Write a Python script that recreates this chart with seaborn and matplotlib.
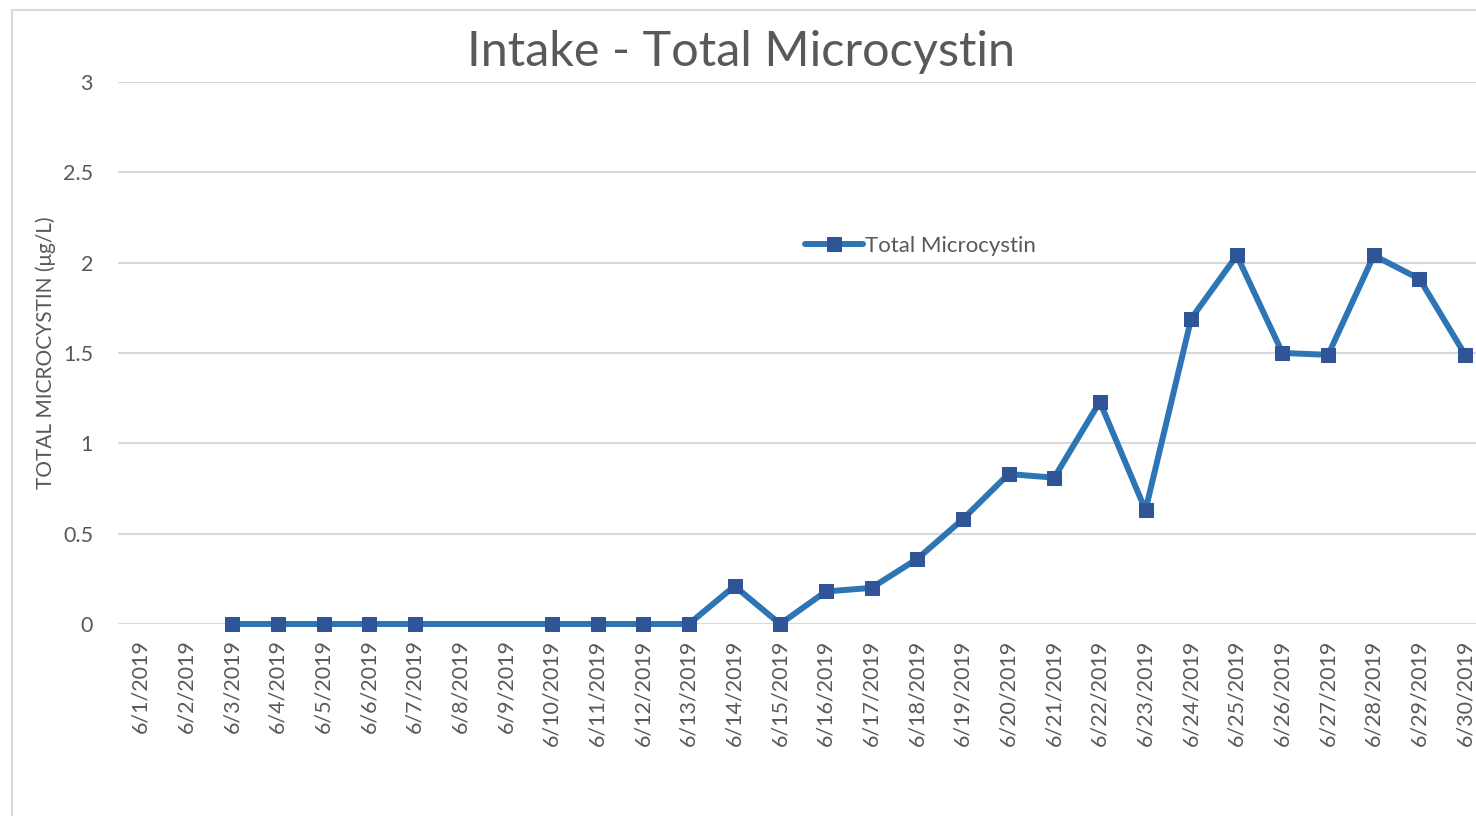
import pandas as pd
import matplotlib.pyplot as plt
import seaborn as sns
from matplotlib.patches import Rectangle
import numpy as np

# Data
dates = [f"6/{d}/2019" for d in range(1, 31)]
microcystin = [np.nan, np.nan, 0.0, 0.0, 0.0, 0.0, 0.0, np.nan, np.nan, 0.0,
               0.0, 0.0, 0.0, 0.21, 0.0, 0.18, 0.20, 0.36, 0.58, 0.83,
               0.81, 1.23, 0.63, 1.69, 2.04, 1.50, 1.49, 2.04, 1.91, 1.49]
y_ticks = [0, 0.5, 1, 1.5, 2, 2.5, 3]

sns.set_theme(style="white")
plt.rcParams['font.family'] = ['Lato', 'DejaVu Sans']

df = pd.DataFrame({"Date": dates, "Total Microcystin": microcystin})
df["pos"] = np.arange(len(df))
df_line = df.dropna(subset=["Total Microcystin"])

fig = plt.figure(figsize=(14.76, 8.16), dpi=100)
ax = fig.add_axes([118 / 1476, 1 - 624 / 816, 1370 / 1476, 542 / 816])

# light chart-area border (left/top visible, rest cropped)
fig.patches.append(Rectangle((12 / 1476, -0.05), 1.2, (816 - 10) / 816 + 0.05,
                             transform=fig.transFigure, fill=False,
                             edgecolor="#d9d9d9", linewidth=1.5, zorder=0))

sns.lineplot(data=df_line, x="pos", y="Total Microcystin", ax=ax,
             color="#2e75b6", linewidth=4.3, marker="s", markersize=10,
             markerfacecolor="#2f5597", markeredgecolor="#2f5597",
             label="Total Microcystin", zorder=5, clip_on=False)

ax.set_xlim(-0.5, len(dates) - 0.5)
ax.set_ylim(0, 3)
ax.set_yticks(y_ticks)
ax.set_yticklabels([f"{t:g}" for t in y_ticks])
ax.set_xticks(df["pos"])
ax.set_xticklabels(dates, rotation=90)
ax.tick_params(axis="both", length=0, labelsize=15.5, labelcolor="#595959")
ax.tick_params(axis="y", pad=18)
ax.tick_params(axis="x", pad=11)
for spine in ax.spines.values():
    spine.set_visible(False)
ax.grid(axis="y", color="#d9d9d9", linewidth=1.5)
ax.set_axisbelow(True)
ax.set_xlabel("")
ax.set_ylabel("TOTAL MICROCYSTIN (μg/L)", fontsize=15, color="#595959", labelpad=5)
ax.patch.set_alpha(0)

leg = ax.legend(loc="center left", bbox_to_anchor=(805 / 1476, 1 - 246 / 816),
                bbox_transform=fig.transFigure, frameon=False, fontsize=16,
                handlelength=2.6, handletextpad=0.1, borderpad=0, borderaxespad=0)
for t in leg.get_texts():
    t.set_color("#595959")

fig.text(741 / 1476, 1 - 52 / 816, "Intake - Total Microcystin", ha="center", va="center",
         fontsize=35, color="#595959")

plt.savefig("out.png", dpi=100)
plt.close()
